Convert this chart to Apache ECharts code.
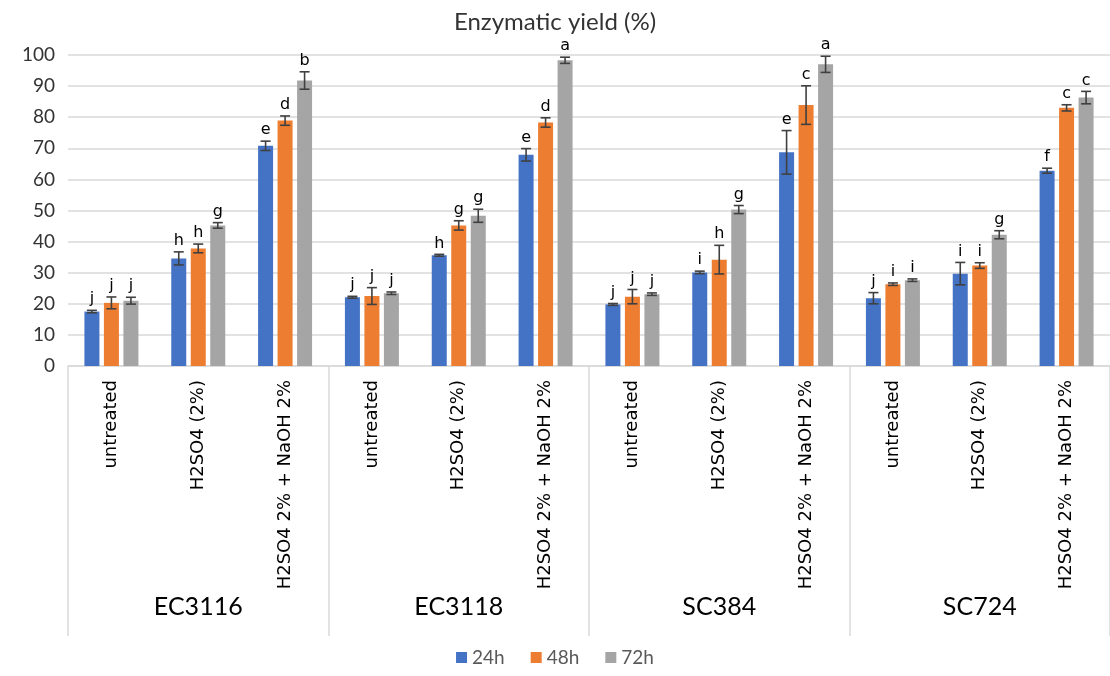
<!DOCTYPE html>
<html>
<head>
    <meta charset="UTF-8">
    <title>Enzymatic yield (%)</title>
    <script src="https://cdn.jsdelivr.net/npm/echarts@6/dist/echarts.min.js"></script>
    <style>
        html, body { margin: 0; padding: 0; background: #fff; }
        #main { width: 1110px; height: 676px; }
    </style>
</head>
<body>
<div id="main"></div>
<script type="text/javascript">
    // categories
    var treatments = ['untreated', 'H2SO4 (2%)', 'H2SO4 2% + NaOH 2%'];
    var groups = ['EC3116', 'EC3118', 'SC384', 'SC724'];
    var times = ['24h', '48h', '72h'];

    // mean yield (%)
    var v24 = [17.5, 34.6, 70.8, 22.1, 35.6, 67.9, 19.8, 30.1, 68.7, 21.8, 29.7, 62.8];
    var v48 = [20.3, 37.8, 78.9, 22.5, 45.2, 78.3, 22.3, 34.2, 83.9, 26.3, 32.3, 83.0];
    var v72 = [21.0, 45.2, 91.8, 23.4, 48.3, 98.3, 23.1, 50.3, 97.0, 27.6, 42.2, 86.3];

    // error (+/-)
    var e24 = [0.4, 2.1, 1.5, 0.3, 0.3, 2.0, 0.3, 0.4, 7.0, 1.8, 3.6, 0.8];
    var e48 = [1.9, 1.4, 1.5, 2.7, 1.5, 1.5, 2.3, 4.6, 6.2, 0.4, 0.9, 1.0];
    var e72 = [1.1, 0.9, 2.8, 0.4, 2.1, 1.0, 0.4, 1.3, 2.6, 0.4, 1.3, 2.0];

    // significance letters
    var l24 = ['j', 'h', 'e', 'j', 'h', 'e', 'j', 'i', 'e', 'j', 'i', 'f'];
    var l48 = ['j', 'h', 'd', 'j', 'g', 'd', 'j', 'h', 'c', 'i', 'i', 'c'];
    var l72 = ['j', 'g', 'b', 'j', 'g', 'a', 'j', 'g', 'a', 'i', 'g', 'c'];

    var colors = ['#4472C4', '#ED7D31', '#A5A5A5'];
    var BAR_W = 15, BAR_GAP = 4.5;

    var cats = [];
    groups.forEach(function (g) {
        treatments.forEach(function (t) { cats.push(t); });
    });

    var values = [v24, v48, v72];
    var errors = [e24, e48, e72];
    var letters = [l24, l48, l72];

    // error bars + letters for series k
    function errRender(k) {
        return function (params, api) {
            var i = params.dataIndex;
            var v = values[k][i], e = errors[k][i];
            var top = api.coord([i, v + e]);
            var bot = api.coord([i, v - e]);
            var xc = top[0] + (k - 1) * (BAR_W + BAR_GAP);
            var hw = 5;
            var ls = {stroke: '#404040', lineWidth: 1.6};
            return {
                type: 'group',
                children: [
                    {type: 'line', shape: {x1: xc, y1: top[1], x2: xc, y2: bot[1]}, style: ls},
                    {type: 'line', shape: {x1: xc - hw, y1: top[1], x2: xc + hw, y2: top[1]}, style: ls},
                    {type: 'line', shape: {x1: xc - hw, y1: bot[1], x2: xc + hw, y2: bot[1]}, style: ls},
                    {
                        type: 'text',
                        style: {
                            text: letters[k][i], x: xc, y: top[1] - 3,
                            align: 'center', verticalAlign: 'bottom',
                            font: '16px "DejaVu Sans"', fill: '#000'
                        }
                    }
                ]
            };
        };
    }

    var series = [];
    times.forEach(function (t, k) {
        series.push({
            name: t,
            type: 'bar',
            data: values[k],
            barWidth: BAR_W,
            barGap: '30%',
            itemStyle: {color: colors[k]},
            z: 2
        });
    });
    times.forEach(function (t, k) {
        series.push({
            type: 'custom',
            data: values[k].map(function (v, i) { return [i, v]; }),
            renderItem: errRender(k),
            z: 5,
            silent: true
        });
    });

    var myChart = echarts.init(document.getElementById('main'));

    var option = {
        animation: false,
        title: {
            text: 'Enzymatic yield (%)',
            left: 'center',
            top: 5,
            textStyle: {fontFamily: 'Lato', fontSize: 24, fontWeight: 'normal', color: '#333'}
        },
        legend: {
            data: times,
            bottom: 4,
            left: 'center',
            icon: 'rect',
            itemWidth: 11,
            itemHeight: 11,
            itemGap: 26,
            textStyle: {fontFamily: 'Lato', fontSize: 19, color: '#595959'}
        },
        grid: {left: 68, top: 55, width: 1045, height: 311, containLabel: false},
        xAxis: [
            {
                type: 'category',
                data: cats,
                axisLine: {lineStyle: {color: '#d9d9d9', width: 1.5}},
                axisTick: {show: false},
                axisLabel: {
                    interval: 0, rotate: 90, margin: 14,
                    fontFamily: 'DejaVu Sans', fontSize: 18, color: '#000'
                }
            },
            {
                type: 'category',
                data: groups,
                position: 'bottom',
                axisLine: {show: false},
                axisTick: {show: true, length: 270, lineStyle: {color: '#d9d9d9', width: 1.5}},
                axisLabel: {margin: 228, fontFamily: 'Lato', fontSize: 25, color: '#000'}
            }
        ],
        yAxis: {
            type: 'value',
            min: 0,
            max: 100,
            interval: 10,
            axisLine: {show: false},
            axisTick: {show: false},
            splitLine: {lineStyle: {color: '#d9d9d9', width: 1.5}},
            axisLabel: {fontFamily: 'Lato', fontSize: 19, color: '#333', margin: 13}
        },
        series: series
    };

    myChart.setOption(option);
</script>
</body>
</html>
